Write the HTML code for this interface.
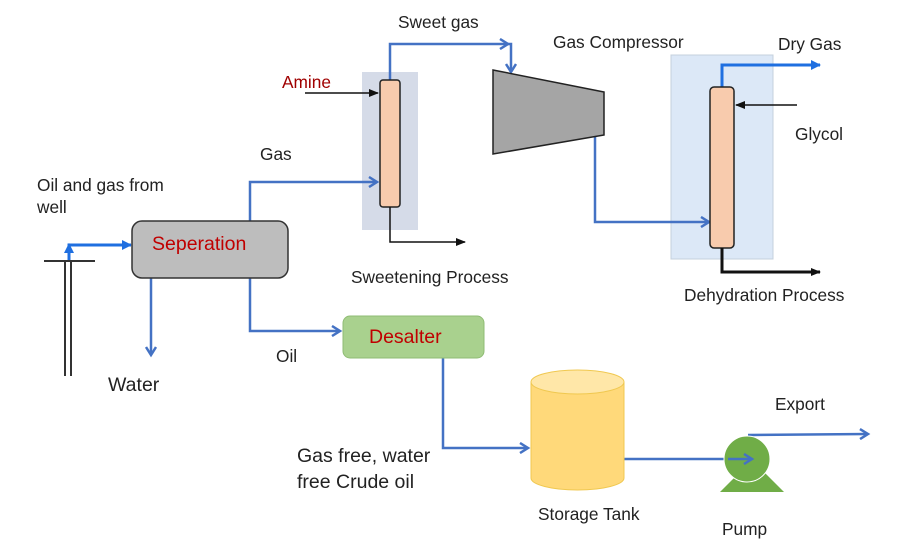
<!DOCTYPE html>
<html><head><style>body{margin:0;background:#fff}svg{display:block}text{font-family:"Liberation Sans",sans-serif;font-size:17.3px;fill:#222}</style></head>
<body>
<svg width="911" height="552" viewBox="0 0 911 552" xmlns="http://www.w3.org/2000/svg">
<defs>
<marker id="b" markerWidth="12" markerHeight="12" refX="9" refY="6" orient="auto" markerUnits="userSpaceOnUse"><path d="M1,1 L9,6 L1,11" fill="none" stroke="#4472c4" stroke-width="2.5"/></marker>
<marker id="bb" markerWidth="10" markerHeight="10" refX="9" refY="5" orient="auto" markerUnits="userSpaceOnUse"><path d="M0,0 L10,5 L0,10 z" fill="#1f6fe0"/></marker>
<marker id="k" markerWidth="10" markerHeight="10" refX="9" refY="5" orient="auto" markerUnits="userSpaceOnUse"><path d="M0,1 L10,5 L0,9 z" fill="#111"/></marker>
</defs>
<rect x="362" y="72" width="56" height="158" fill="#d5dbe8"/>
<rect x="671" y="55" width="102" height="204" fill="#dce8f7" stroke="#c5d0dc"/>
<g fill="none" stroke="#4472c4" stroke-width="2.5">
<polyline points="250,222 250,182 377,182" marker-end="url(#b)"/>
<polyline points="390,80 390,44 508,44" marker-end="url(#b)"/>
<polyline points="508,44 511,44 511,72" marker-end="url(#b)"/>
<polyline points="595,135 595,222 709,222" marker-end="url(#b)"/>
<polyline points="151,278 151,355" marker-end="url(#b)"/>
<polyline points="250,278 250,331 340,331" marker-end="url(#b)"/>
<polyline points="443,358 443,448 528,448" marker-end="url(#b)"/>
<polyline points="624,459 752,459" marker-end="url(#b)"/>
<polyline points="748,435 868,434" marker-end="url(#b)"/>
</g>
<g fill="none" stroke="#1f6fe0" stroke-width="3">
<polyline points="69,262 69,245 131,245" marker-end="url(#bb)"/>
<line x1="69" y1="262" x2="69" y2="244" marker-end="url(#bb)"/>
<polyline points="722,87 722,65 820,65" marker-end="url(#bb)"/>
</g>
<g stroke="#333" stroke-width="2" fill="none">
<line x1="65" y1="262" x2="65" y2="376"/><line x1="71" y1="262" x2="71" y2="376"/>
<line x1="44" y1="261" x2="95" y2="261"/>
</g>
<rect x="132" y="221" width="156" height="57" rx="10" fill="#bdbdbd" stroke="#333" stroke-width="1.5"/>
<text x="152" y="250" style="fill:#c00000;font-size:19.5px">Seperation</text>
<rect x="343" y="316" width="141" height="42" rx="7" fill="#a9d18e" stroke="#8fbc74"/>
<text x="369" y="343" style="fill:#c00000;font-size:19.5px">Desalter</text>
<rect x="380" y="80" width="20" height="127" rx="3" fill="#f8cbad" stroke="#222" stroke-width="1.5"/>
<rect x="710" y="87" width="24" height="161" rx="4" fill="#f8cbad" stroke="#222" stroke-width="1.5"/>
<g stroke="#111" stroke-width="1.5" fill="none">
<line x1="305" y1="93" x2="378" y2="93" marker-end="url(#k)"/>
<polyline points="390,207 390,242 465,242" marker-end="url(#k)"/>
<line x1="797" y1="105" x2="736" y2="105" marker-end="url(#k)"/>
<polyline points="722,248 722,272 820,272" stroke-width="3" marker-end="url(#k)"/>
</g>
<polygon points="493,70 604,92 604,135 493,154" fill="#a5a5a5" stroke="#222" stroke-width="1.5"/>
<path d="M531,382 L531,478 A46.5,12 0 0 0 624,478 L624,382 Z" fill="#ffd97a" stroke="#f0c850"/>
<ellipse cx="577.5" cy="382" rx="46.5" ry="12" fill="#ffe7a8" stroke="#f0c850"/>
<polygon points="720,492 784,492 764,472 740,472" fill="#70ad47"/>
<circle cx="747" cy="459" r="23" fill="#70ad47" stroke="#fff" stroke-width="1"/>
<line x1="728" y1="459" x2="752" y2="459" stroke="#4472c4" stroke-width="2.5" marker-end="url(#b)"/>
<text x="37" y="191">Oil and gas from</text><text x="37" y="213">well</text>
<text x="260" y="160">Gas</text>
<text x="282" y="88" style="fill:#a00000">Amine</text>
<text x="398" y="28">Sweet gas</text>
<text x="553" y="48">Gas Compressor</text>
<text x="778" y="50">Dry Gas</text>
<text x="795" y="140">Glycol</text>
<text x="351" y="283">Sweetening Process</text>
<text x="684" y="301">Dehydration Process</text>
<text x="108" y="391" style="font-size:19.5px">Water</text>
<text x="276" y="362">Oil</text>
<text x="297" y="462" style="font-size:19.5px">Gas free, water</text>
<text x="297" y="488" style="font-size:19.5px">free Crude oil</text>
<text x="538" y="520">Storage Tank</text>
<text x="722" y="535">Pump</text>
<text x="775" y="410">Export</text>
</svg>
</body></html>
